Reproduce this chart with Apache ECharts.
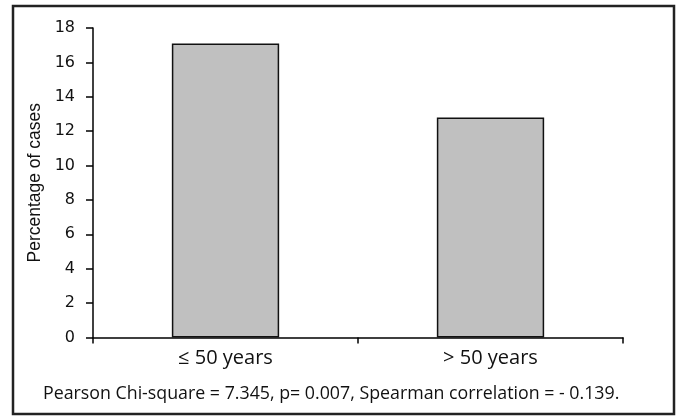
<!DOCTYPE html>
<html><head><meta charset="utf-8">
<script src="https://cdn.jsdelivr.net/npm/echarts@6/dist/echarts.min.js"></script>
<style>html,body{margin:0;padding:0;background:#fff}#c{width:678px;height:418px}</style>
</head><body><div id="c"></div>
<script>
const categories = ['\u2264 50 years', '> 50 years'];
const values = [17.1, 12.8];
const yTicks = {min: 0, max: 18, interval: 2};
const footnote = 'Pearson Chi-square = 7.345, p= 0.007, Spearman correlation = - 0.139.';

const chart = echarts.init(document.getElementById('c'), null, {renderer: 'canvas'});
chart.setOption({
  animation: false,
  grid: {left: 93, right: 55, top: 28, bottom: 80.5, containLabel: false},
  graphic: [
    {type: 'rect', shape: {x: 13, y: 6, width: 661, height: 408}, style: {fill: 'none', stroke: '#222', lineWidth: 2.5}},
    {type: 'text', left: 43, top: 385, style: {text: footnote, font: '17.8px "Open Sans", "Noto Sans", sans-serif', fill: '#111'}}
  ],
  xAxis: {
    type: 'category', data: categories,
    axisLine: {lineStyle: {color: '#000', width: 1.5}},
    axisTick: {show: true, length: 6, lineStyle: {color: '#000', width: 1.5}, alignWithLabel: false},
    axisLabel: {color: '#111', fontSize: 20, fontFamily: '"Open Sans", "Noto Sans", sans-serif', margin: 11}
  },
  yAxis: {
    type: 'value', min: yTicks.min, max: yTicks.max, interval: yTicks.interval,
    name: 'Percentage of cases', nameLocation: 'middle', nameGap: 47,
    nameTextStyle: {color: '#111', fontSize: 17.5, fontFamily: '"Liberation Sans", Arial, sans-serif'},
    axisLine: {show: true, lineStyle: {color: '#000', width: 1.5}},
    axisTick: {show: true, length: 7, lineStyle: {color: '#000', width: 1.5}},
    splitLine: {show: false},
    axisLabel: {color: '#111', fontSize: 16, fontFamily: '"DejaVu Sans", sans-serif', margin: 18}
  },
  series: [{
    type: 'bar', data: values, barWidth: '40.5%',
    itemStyle: {color: '#c0c0c0', borderColor: '#111', borderWidth: 1.5}
  }]
});
</script></body></html>
